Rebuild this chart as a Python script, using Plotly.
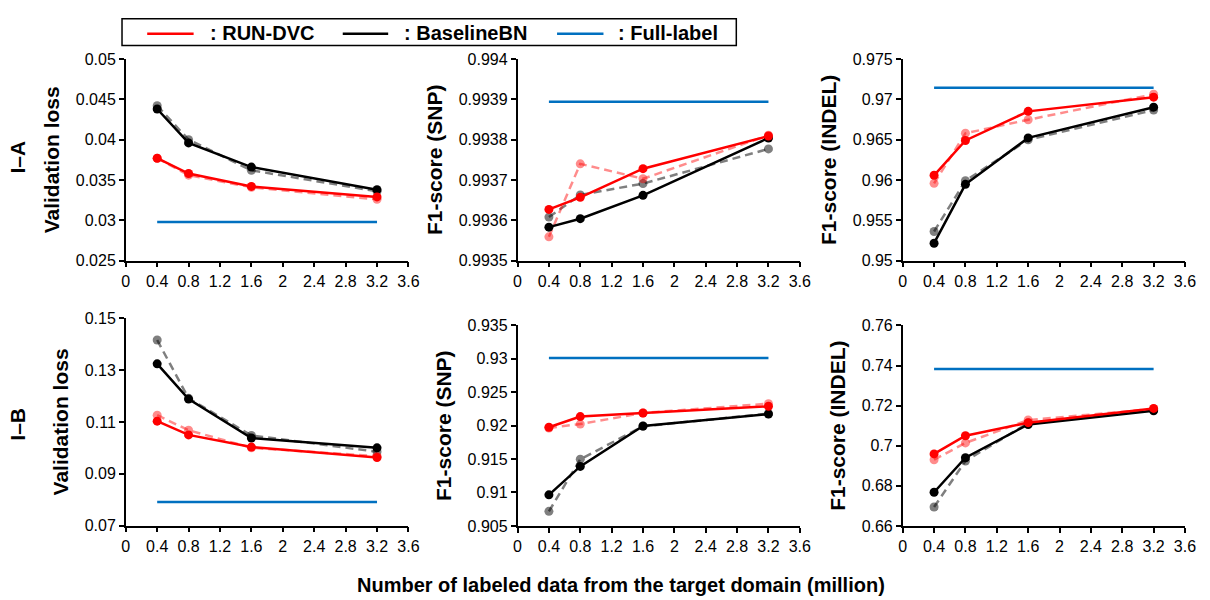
import plotly.graph_objects as go
from plotly.subplots import make_subplots

# Amount of labeled target-domain data (million)
x_vals = [0.4, 0.8, 1.6, 3.2]
x_ticks = [0, 0.4, 0.8, 1.2, 1.6, 2, 2.4, 2.8, 3.2, 3.6]
x_ticktext = ["0", "0.4", "0.8", "1.2", "1.6", "2", "2.4", "2.8", "3.2", "3.6"]

# I-A : validation loss
ia_loss_run = [0.0377, 0.0358, 0.0342, 0.0329]
ia_loss_run_alt = [0.0377, 0.0356, 0.0341, 0.0326]
ia_loss_base = [0.0438, 0.0396, 0.0366, 0.0338]
ia_loss_base_alt = [0.0442, 0.0400, 0.0362, 0.0336]
ia_loss_full = 0.0298

# I-A : F1-score (SNP)
ia_snp_run = [0.993627, 0.993657, 0.993728, 0.993809]
ia_snp_run_alt = [0.993559, 0.993740, 0.993703, 0.993811]
ia_snp_base = [0.993583, 0.993604, 0.993662, 0.993804]
ia_snp_base_alt = [0.993608, 0.993663, 0.993691, 0.993777]
ia_snp_full = 0.993894

# I-A : F1-score (INDEL)
ia_indel_run = [0.96058, 0.96490, 0.96851, 0.97027]
ia_indel_run_alt = [0.95958, 0.96579, 0.96747, 0.97063]
ia_indel_base = [0.95216, 0.95946, 0.96522, 0.96903]
ia_indel_base_alt = [0.95361, 0.95990, 0.96498, 0.96867]
ia_indel_full = 0.97143

# I-B : validation loss
ib_loss_run = [0.1103, 0.1050, 0.1003, 0.0963]
ib_loss_run_alt = [0.1126, 0.1068, 0.1000, 0.0968]
ib_loss_base = [0.1324, 0.1188, 0.1038, 0.1000]
ib_loss_base_alt = [0.1416, 0.1191, 0.1048, 0.0985]
ib_loss_full = 0.0791

# I-B : F1-score (SNP)
ib_snp_run = [0.91976, 0.92136, 0.92189, 0.92290]
ib_snp_run_alt = [0.91966, 0.92024, 0.92190, 0.92329]
ib_snp_base = [0.90965, 0.91390, 0.91995, 0.92174]
ib_snp_base_alt = [0.90718, 0.91497, 0.91990, 0.92180]
ib_snp_full = 0.93011

# I-B : F1-score (INDEL)
ib_indel_run = [0.6959, 0.7050, 0.7115, 0.7186]
ib_indel_run_alt = [0.6930, 0.7014, 0.7128, 0.7183]
ib_indel_base = [0.6768, 0.6940, 0.7106, 0.7174]
ib_indel_base_alt = [0.6694, 0.6924, 0.7113, 0.7179]
ib_indel_full = 0.7383

# y tick values / labels per panel
ia_loss_ticks = [0.025, 0.03, 0.035, 0.04, 0.045, 0.05]
ia_loss_ticktext = ["0.025", "0.03", "0.035", "0.04", "0.045", "0.05"]
ia_snp_ticks = [0.9935, 0.9936, 0.9937, 0.9938, 0.9939, 0.994]
ia_snp_ticktext = ["0.9935", "0.9936", "0.9937", "0.9938", "0.9939", "0.994"]
ia_indel_ticks = [0.95, 0.955, 0.96, 0.965, 0.97, 0.975]
ia_indel_ticktext = ["0.95", "0.955", "0.96", "0.965", "0.97", "0.975"]
ib_loss_ticks = [0.07, 0.09, 0.11, 0.13, 0.15]
ib_loss_ticktext = ["0.07", "0.09", "0.11", "0.13", "0.15"]
ib_snp_ticks = [0.905, 0.91, 0.915, 0.92, 0.925, 0.93, 0.935]
ib_snp_ticktext = ["0.905", "0.91", "0.915", "0.92", "0.925", "0.93", "0.935"]
ib_indel_ticks = [0.66, 0.68, 0.7, 0.72, 0.74, 0.76]
ib_indel_ticktext = ["0.66", "0.68", "0.7", "0.72", "0.74", "0.76"]

legend_names = [": RUN-DVC", ": BaselineBN", ": Full-label"]
row_labels = ["I\u2013A", "I\u2013B"]
y_titles = ["Validation loss", "F1-score (SNP)", "F1-score (INDEL)"]
x_title = "Number of labeled data from the target domain (million)"

RED = "#FF0000"
RED_FADED = "rgba(255,0,0,0.45)"
BLACK = "#000000"
GRAY_FADED = "rgba(0,0,0,0.5)"
BLUE = "#0070C0"
FONT = "Liberation Sans, Arial, sans-serif"
DASH = "8px,5px"

W, H = 1210, 600

panels = [
    # (row, col, run, run_alt, base, base_alt, full, ticks, ticktext, px-box)
    (1, 1, ia_loss_run, ia_loss_run_alt, ia_loss_base, ia_loss_base_alt, ia_loss_full,
     ia_loss_ticks, ia_loss_ticktext, (123.3, 409.5, 52.5, 260.0)),
    (1, 2, ia_snp_run, ia_snp_run_alt, ia_snp_base, ia_snp_base_alt, ia_snp_full,
     ia_snp_ticks, ia_snp_ticktext, (520.0, 805.8, 52.5, 260.0)),
    (1, 3, ia_indel_run, ia_indel_run_alt, ia_indel_base, ia_indel_base_alt, ia_indel_full,
     ia_indel_ticks, ia_indel_ticktext, (910.0, 1195.8, 52.5, 260.0)),
    (2, 1, ib_loss_run, ib_loss_run_alt, ib_loss_base, ib_loss_base_alt, ib_loss_full,
     ib_loss_ticks, ib_loss_ticktext, (123.3, 409.5, 319.3, 532.7)),
    (2, 2, ib_snp_run, ib_snp_run_alt, ib_snp_base, ib_snp_base_alt, ib_snp_full,
     ib_snp_ticks, ib_snp_ticktext, (520.0, 805.8, 326.7, 533.0)),
    (2, 3, ib_indel_run, ib_indel_run_alt, ib_indel_base, ib_indel_base_alt, ib_indel_full,
     ib_indel_ticks, ib_indel_ticktext, (910.0, 1195.8, 326.7, 533.0)),
]

fig = make_subplots(rows=2, cols=3)

for (r, c, run, run_alt, base, base_alt, full, yt, ytt, box) in panels:
    # faded dashed repeats drawn underneath
    fig.add_trace(go.Scatter(x=x_vals, y=base_alt, mode="lines+markers",
                             line=dict(color=GRAY_FADED, width=2.5, dash=DASH),
                             marker=dict(color=GRAY_FADED, size=9),
                             showlegend=False), row=r, col=c)
    fig.add_trace(go.Scatter(x=x_vals, y=run_alt, mode="lines+markers",
                             line=dict(color=RED_FADED, width=2.5, dash=DASH),
                             marker=dict(color=RED_FADED, size=9),
                             showlegend=False), row=r, col=c)
    fig.add_trace(go.Scatter(x=x_vals, y=base, mode="lines+markers",
                             line=dict(color=BLACK, width=2.5),
                             marker=dict(color=BLACK, size=9),
                             name=legend_names[1], showlegend=False), row=r, col=c)
    fig.add_trace(go.Scatter(x=x_vals, y=run, mode="lines+markers",
                             line=dict(color=RED, width=2.5),
                             marker=dict(color=RED, size=9),
                             name=legend_names[0], showlegend=False), row=r, col=c)
    fig.add_trace(go.Scatter(x=x_vals, y=[full] * len(x_vals), mode="lines",
                             line=dict(color=BLUE, width=2.5),
                             name=legend_names[2], showlegend=False), row=r, col=c)

    x0, x1, y0, y1 = box
    fig.update_xaxes(domain=[x0 / W, x1 / W], range=[0, 3.6],
                     tickvals=x_ticks, ticktext=x_ticktext,
                     showline=True, linecolor="black", linewidth=1.5,
                     ticks="outside", ticklen=5, tickwidth=1.5, tickcolor="black",
                     showgrid=False, zeroline=False,
                     tickfont=dict(family=FONT, size=16, color="black"),
                     row=r, col=c)
    fig.update_yaxes(domain=[1 - y1 / H, 1 - y0 / H], range=[yt[0], yt[-1]],
                     tickvals=yt, ticktext=ytt,
                     showline=True, linecolor="black", linewidth=1.5,
                     ticks="outside", ticklen=5, tickwidth=1.5, tickcolor="black",
                     showgrid=False, zeroline=False,
                     tickfont=dict(family=FONT, size=16, color="black"),
                     title=dict(text=y_titles[c - 1], standoff=10,
                                font=dict(family=FONT, size=21, color="black", weight="bold")),
                     row=r, col=c)

annotations = []
# row labels
for label, yc in zip(row_labels, [153, 428]):
    annotations.append(dict(text=label, x=14 / W, y=1 - yc / H, xref="paper", yref="paper",
                            textangle=-90, showarrow=False, xanchor="center", yanchor="middle",
                            font=dict(family=FONT, size=21, color="black", weight="bold")))
# shared x-axis title
annotations.append(dict(text=x_title, x=625 / W, y=1 - 594 / H, xref="paper", yref="paper",
                        showarrow=False, xanchor="center", yanchor="middle",
                        font=dict(family=FONT, size=20, color="black", weight="bold")))

# legend box with line samples and labels
shapes = [dict(type="rect", xref="paper", yref="paper",
               x0=119.5 / W, x1=741.5 / W, y0=1 - 38.5 / H, y1=1 - 11 / H,
               line=dict(color="black", width=1.5), fillcolor="white", layer="above")]
legend_items = [(RED, 145, 192, 207), (BLACK, 343, 389, 403), (BLUE, 560, 607, 620)]
for (col, lx0, lx1, tx), name in zip(legend_items, legend_names):
    shapes.append(dict(type="line", xref="paper", yref="paper",
                       x0=lx0 / W, x1=lx1 / W, y0=1 - 26.5 / H, y1=1 - 26.5 / H,
                       line=dict(color=col, width=2.5), layer="above"))
    annotations.append(dict(text=name, x=tx / W, y=1 - 26 / H, xref="paper", yref="paper",
                            showarrow=False, xanchor="left", yanchor="middle",
                            font=dict(family=FONT, size=20, color="black", weight="bold")))

fig.update_layout(width=W, height=H, margin=dict(l=0, r=0, t=0, b=0),
                  plot_bgcolor="white", paper_bgcolor="white",
                  annotations=list(fig.layout.annotations) + annotations,
                  shapes=shapes, showlegend=False)

fig.write_html("out.html")
